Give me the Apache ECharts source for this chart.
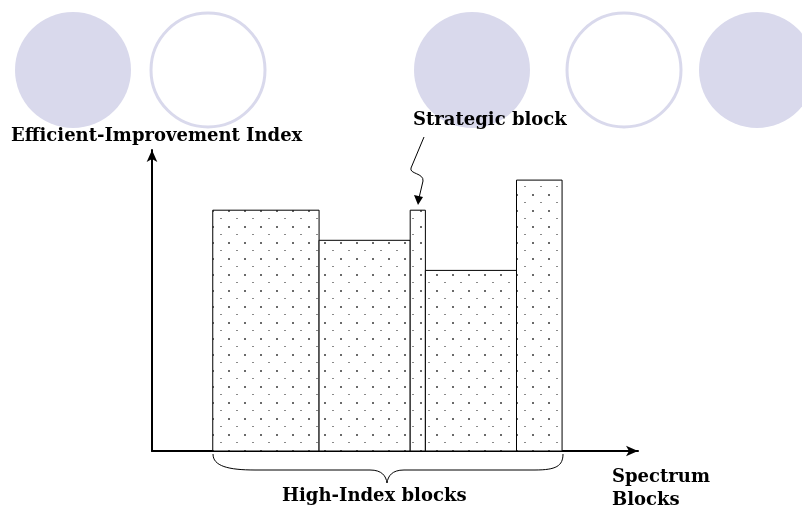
<!DOCTYPE html>
<html>
<head>
<meta charset="utf-8">
<script src="https://cdn.jsdelivr.net/npm/echarts@6/dist/echarts.min.js"></script>
<style>html,body{margin:0;padding:0;background:#fff}#c{width:802px;height:513px}</style>
</head>
<body>
<div id="c"></div>
<script>
// Block widths (spectrum units) and index heights
var blockNames = ['High-Index 1', 'High-Index 2', 'Strategic', 'High-Index 3', 'High-Index 4'];
var blockWidths = [7, 6, 1, 6, 3];
var blockValues = [8, 7, 8, 6, 9];
var blockStart = 4;
var xMax = 32;
var yMax = 10;

var yAxisTitle = 'Efficient-Improvement Index';
var xAxisTitle = ['Spectrum', 'Blocks'];
var strategicLabel = 'Strategic block';
var braceLabel = 'High-Index blocks';

var seriesData = [];
var pos = blockStart;
for (var i = 0; i < blockWidths.length; i++) {
  seriesData.push({name: blockNames[i], value: [pos, blockWidths[i], blockValues[i]]});
  pos += blockWidths[i];
}

// dotted fill pattern
var tile = document.createElement('canvas');
tile.width = 16; tile.height = 16;
var tctx = tile.getContext('2d');
tctx.fillStyle = '#fff';
tctx.fillRect(0, 0, 16, 16);
tctx.fillStyle = '#6a6a6a';
tctx.fillRect(4, 2, 2, 2);
tctx.fillStyle = '#8a8a8a';
tctx.fillRect(12, 10, 2, 1);

var FONT = '"DejaVu Serif", serif';
var circ = '#d9d9ec';
var ln = {fill: 'none', stroke: '#000', lineWidth: 1};

function bz(x1, y1, c1x, c1y, c2x, c2y, x2, y2) {
  return {type: 'bezierCurve', z: 10, shape: {x1: x1, y1: y1, cpx1: c1x, cpy1: c1y, cpx2: c2x, cpy2: c2y, x2: x2, y2: y2}, style: ln};
}
function seg(x1, y1, x2, y2) {
  return {type: 'line', z: 10, shape: {x1: x1, y1: y1, x2: x2, y2: y2}, style: ln};
}

var chart = echarts.init(document.getElementById('c'), null, {renderer: 'canvas'});
chart.setOption({
  animation: false,
  backgroundColor: '#fff',
  grid: {left: 152, right: 164, top: 150, bottom: 62, containLabel: false},
  xAxis: {
    type: 'value', min: 0, max: xMax,
    axisLine: {show: true, symbol: ['none', 'arrow'], symbolSize: [8, 12], lineStyle: {color: '#000', width: 2}},
    axisTick: {show: false}, axisLabel: {show: false}, splitLine: {show: false}
  },
  yAxis: {
    type: 'value', min: 0, max: yMax,
    axisLine: {show: true, symbol: ['none', 'arrow'], symbolSize: [8, 12], lineStyle: {color: '#000', width: 2}},
    axisTick: {show: false}, axisLabel: {show: false}, splitLine: {show: false}
  },
  graphic: [
    {type: 'circle', z: -10, shape: {cx: 73, cy: 70, r: 58}, style: {fill: circ}},
    {type: 'circle', z: -10, shape: {cx: 208, cy: 70, r: 57}, style: {fill: 'none', stroke: circ, lineWidth: 3}},
    {type: 'circle', z: -10, shape: {cx: 472, cy: 70, r: 58}, style: {fill: circ}},
    {type: 'circle', z: -10, shape: {cx: 624, cy: 70, r: 57}, style: {fill: 'none', stroke: circ, lineWidth: 3}},
    {type: 'circle', z: -10, shape: {cx: 757, cy: 70, r: 58}, style: {fill: circ}},
    {type: 'text', z: 10, x: 11, y: 127, style: {text: yAxisTitle, font: 'bold 18px ' + FONT, fill: '#000'}},
    {type: 'text', z: 10, x: 413, y: 111, style: {text: strategicLabel, font: 'bold 18px ' + FONT, fill: '#000'}},
    {type: 'text', z: 10, x: 282, y: 487, style: {text: braceLabel, font: 'bold 18px ' + FONT, fill: '#000'}},
    {type: 'text', z: 10, x: 612, y: 466, style: {text: xAxisTitle.join('\n'), font: 'bold 18px ' + FONT, fill: '#000', lineHeight: 23}},
    bz(213, 454, 213, 466, 228, 470, 255, 470),
    seg(255, 470, 370, 470),
    bz(370, 470, 382, 470, 386, 476, 387, 483),
    bz(387, 483, 388, 476, 392, 470, 404, 470),
    seg(404, 470, 535, 470),
    bz(535, 470, 556, 470, 563, 466, 563, 454),
    seg(424, 137, 411, 168),
    bz(411, 168, 409, 174, 424, 173, 423, 181),
    seg(423, 181, 419, 198),
    {type: 'polygon', z: 10, shape: {points: [[414, 195], [423, 197], [418, 205]]}, style: {fill: '#000'}}
  ],
  series: [{
    type: 'custom',
    data: seriesData,
    encode: {x: [0], y: [2]},
    renderItem: function (params, api) {
      var s = api.value(0), w = api.value(1), v = api.value(2);
      var p1 = api.coord([s, v]);
      var p2 = api.coord([s + w, 0]);
      return {
        type: 'rect',
        shape: {x: p1[0], y: p1[1], width: p2[0] - p1[0], height: p2[1] - p1[1]},
        style: {fill: {image: tile, repeat: 'repeat'}, stroke: '#000', lineWidth: 1}
      };
    }
  }]
});
</script>
</body>
</html>
